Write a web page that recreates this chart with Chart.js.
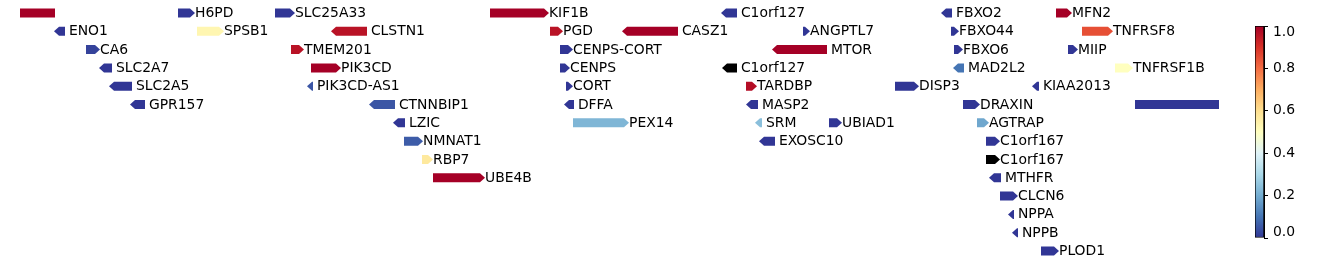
<!DOCTYPE html>
<html><head><meta charset="utf-8">
<script src="https://cdn.jsdelivr.net/npm/chart.js@4"></script>
<style>
html,body{margin:0;padding:0;background:#fff}
#wrap{position:relative;width:1338px;height:265px;overflow:hidden}
canvas{position:absolute;top:0}
</style>
</head><body>
<div id="wrap">
<canvas id="genes" width="1240" height="265" style="left:0;width:1240px;height:265px"></canvas>
<canvas id="cbar" width="88" height="265" style="left:1250px;width:88px;height:265px"></canvas>
</div>
<script>
// ---- data (positions along the window, track row, strand, colour value) ----
const geneNames  = ['', 'H6PD', 'SLC25A33', 'KIF1B', 'C1orf127', 'FBXO2', 'MFN2',
  'ENO1', 'SPSB1', 'CLSTN1', 'PGD', 'CASZ1', 'ANGPTL7', 'FBXO44', 'TNFRSF8',
  'CA6', 'TMEM201', 'CENPS-CORT', 'MTOR', 'FBXO6', 'MIIP',
  'SLC2A7', 'PIK3CD', 'CENPS', 'C1orf127', 'MAD2L2', 'TNFRSF1B',
  'SLC2A5', 'PIK3CD-AS1', 'CORT', 'TARDBP', 'DISP3', 'KIAA2013',
  'GPR157', 'CTNNBIP1', 'DFFA', 'MASP2', 'DRAXIN', '',
  'LZIC', 'PEX14', 'SRM', 'UBIAD1', 'AGTRAP',
  'NMNAT1', 'EXOSC10', 'C1orf167',
  'RBP7', 'C1orf167',
  'UBE4B', 'MTHFR',
  'CLCN6', 'NPPA', 'NPPB', 'PLOD1'];
const geneStart  = [20, 178, 275, 490, 721, 941, 1056,
  54, 197, 331, 550, 622, 803, 951, 1082,
  86, 291, 560, 772, 954, 1068,
  99, 311, 560, 722, 953, 1115,
  109, 307, 566, 746, 895, 1032,
  130, 369, 564, 746, 963, 1135,
  393, 573, 755, 829, 977,
  404, 759, 986,
  422, 986,
  433, 989,
  1000, 1008, 1012, 1041];
const geneEnd    = [55, 195, 295, 549, 737, 952, 1072,
  65, 224, 367, 563, 678, 810, 959, 1113,
  100, 304, 573, 827, 963, 1078,
  112, 341, 570, 737, 964, 1133,
  132, 313, 573, 757, 919, 1039,
  145, 395, 574, 758, 980, 1219,
  405, 629, 762, 842, 989,
  423, 775, 1000,
  433, 1000,
  485, 1001,
  1018, 1014, 1018, 1059];
const geneRow    = [0, 0, 0, 0, 0, 0, 0,
  1, 1, 1, 1, 1, 1, 1, 1,
  2, 2, 2, 2, 2, 2,
  3, 3, 3, 3, 3, 3,
  4, 4, 4, 4, 4, 4,
  5, 5, 5, 5, 5, 5,
  6, 6, 6, 6, 6,
  7, 7, 7,
  8, 8,
  9, 9,
  10, 11, 12, 13];
const geneStrand = [0, 1, 1, 1, -1, -1, 1,
  -1, 1, -1, 1, -1, 1, 1, 1,
  1, 1, 1, -1, 1, 1,
  -1, 1, 1, -1, -1, 1,
  -1, -1, 1, 1, 1, -1,
  -1, -1, -1, -1, 1, 0,
  -1, 1, -1, 1, 1,
  1, -1, 1,
  1, 1,
  1, -1,
  1, -1, -1, 1];
const geneValue  = [1.0, 0.0, 0.0, 1.0, 0.0, 0.0, 1.0,
  0.0, 0.53, 0.96, 0.96, 1.0, 0.0, 0.0, 0.85,
  0.02, 0.96, 0.0, 1.0, 0.0, 0.0,
  0.0, 1.0, 0.0, null, 0.1, 0.5,
  0.0, 0.05, 0.0, 0.97, 0.0, 0.0,
  0.0, 0.05, 0.0, 0.0, 0.0, 0.0,
  0.0, 0.22, 0.24, 0.0, 0.19,
  0.06, 0.0, 0.0,
  0.57, null,
  1.0, 0.0,
  0.0, 0.0, 0.0, 0.0];
const colorbarTicks = [0.0, 0.2, 0.4, 0.6, 0.8, 1.0];
const cbMin = 0, cbMax = 1;

// ---- RdYlBu_r colormap ----
const cmapStops = ['#313695','#4575b4','#74add1','#abd9e9','#e0f3f8','#ffffbf','#fee090','#fdae61','#f46d43','#d73027','#a50026'];
function hexToRgb(h){ return [1,3,5].map(i => parseInt(h.substr(i,2),16)); }
function cmap(v){
  if (v === null || v === undefined || isNaN(v)) return '#000000';
  v = Math.max(0, Math.min(1, (v - cbMin) / (cbMax - cbMin)));
  const p = v * 10, i = Math.min(9, Math.floor(p)), t = p - i;
  const a = hexToRgb(cmapStops[i]), b = hexToRgb(cmapStops[i+1]);
  return 'rgb(' + a.map((c,k) => Math.round(c + (b[k]-c)*t)).join(',') + ')';
}

const FONT = '13.9px "DejaVu Sans"';
const HEAD = 5;

const arrowPlugin = {
  id: 'arrows',
  beforeDatasetDraw(chart, args) {
    const ctx = chart.ctx, meta = args.meta, ds = chart.data.datasets[args.index];
    ctx.save();
    ctx.font = FONT; ctx.textBaseline = 'middle'; ctx.textAlign = 'left';
    const spaceW = ctx.measureText(' ').width;
    meta.data.forEach((el, i) => {
      const p = el.getProps(['x','base','y','height'], true);
      const left = Math.min(p.x, p.base), right = Math.max(p.x, p.base);
      const top = p.y - p.height/2, bot = p.y + p.height/2, y = p.y;
      const s = geneStrand[i];
      const h = Math.min(HEAD, right - left);
      ctx.beginPath();
      if (s > 0) {
        ctx.moveTo(left, top); ctx.lineTo(right - h, top); ctx.lineTo(right, y);
        ctx.lineTo(right - h, bot); ctx.lineTo(left, bot);
      } else if (s < 0) {
        ctx.moveTo(right, top); ctx.lineTo(left + h, top); ctx.lineTo(left, y);
        ctx.lineTo(left + h, bot); ctx.lineTo(right, bot);
      } else {
        ctx.rect(left, top, right - left, bot - top);
      }
      ctx.closePath();
      ctx.fillStyle = ds.backgroundColor[i];
      ctx.fill();
      if (geneNames[i]) {
        ctx.fillStyle = '#000';
        ctx.fillText(geneNames[i], right + (s < 0 ? spaceW - 0.5 : 0), y + 0.5);
      }
    });
    ctx.restore();
    return false;
  }
};

new Chart(document.getElementById('genes'), {
  type: 'bar',
  data: {
    datasets: [{
      data: geneNames.map((n, i) => ({ x: [geneStart[i], geneEnd[i]], y: geneRow[i] })),
      backgroundColor: geneValue.map(cmap),
      barThickness: 9
    }]
  },
  options: {
    indexAxis: 'y', responsive: false, animation: false, events: [],
    layout: { padding: { left: 0, right: 0, top: 13, bottom: 14 } },
    plugins: { legend: { display: false }, tooltip: { enabled: false } },
    scales: {
      x: { type: 'linear', min: 0, max: 1240, offset: false, display: false },
      y: { type: 'linear', min: 0, max: 13, reverse: true, offset: false, display: false }
    }
  },
  plugins: [arrowPlugin]
});

new Chart(document.getElementById('cbar'), {
  type: 'bar',
  data: {
    labels: ['colorbar'],
    datasets: [{
      data: [[cbMin, cbMax]],
      backgroundColor: (c) => {
        const ch = c.chart, a = ch.chartArea;
        if (!a) return cmapStops[0];
        const g = ch.ctx.createLinearGradient(0, a.bottom, 0, a.top);
        cmapStops.forEach((s, k) => g.addColorStop(k / 10, s));
        return g;
      },
      borderColor: '#000', borderWidth: 1, borderSkipped: false,
      barPercentage: 1, categoryPercentage: 1
    }]
  },
  options: {
    responsive: false, animation: false, events: [],
    layout: { padding: { left: 5, right: 0, top: 26, bottom: 27 } },
    plugins: { legend: { display: false }, tooltip: { enabled: false } },
    scales: {
      x: { display: false },
      y: {
        position: 'right', min: cbMin, max: cbMax,
        afterFit(s) { s.width = 74; },
        afterBuildTicks(s) { s.ticks = colorbarTicks.map(v => ({ value: v })); },
        ticks: {
          padding: 5, color: '#000',
          font: { family: 'DejaVu Sans', size: 13.9, lineHeight: '12px' },
          callback(v) {
            const t = Number(v).toFixed(1);
            if (Math.abs(v - 1) < 1e-9) return ['', t];
            if (Math.abs(v) < 1e-9) return [t, ''];
            return t;
          }
        },
        grid: { drawOnChartArea: false, drawTicks: true, tickLength: 4, color: '#000' },
        border: { display: true, color: '#000', width: 1 }
      }
    }
  }
});
</script>
</body></html>
